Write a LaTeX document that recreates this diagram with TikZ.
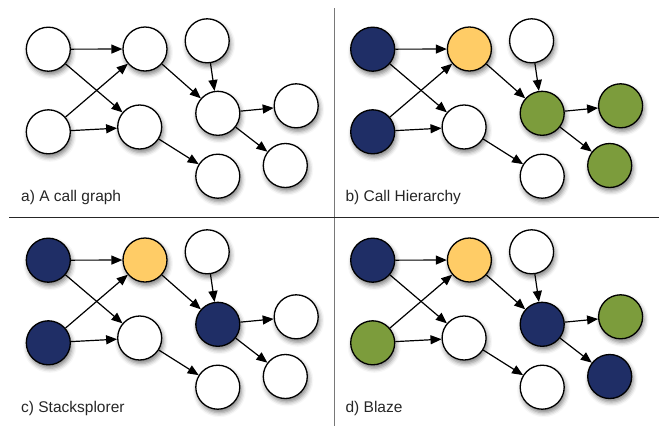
\documentclass[tikz,border=0pt]{standalone}
\usepackage{fontspec}
\setmainfont{Liberation Sans}
\usetikzlibrary{arrows.meta,shadows.blur}

\definecolor{navy}{RGB}{31,46,102}
\definecolor{gold}{RGB}{255,204,102}
\definecolor{olive}{RGB}{124,156,60}
\definecolor{rulegray}{RGB}{120,120,120}

% one call graph: nine functions and the calls between them
\newcommand\drawcallgraph[1]{%
  \node[fn,fA] (#1A) at (48.3,-49.2)  {};
  \node[fn,fB] (#1B) at (145.0,-49.0) {};
  \node[fn,fC] (#1C) at (207.2,-40.8) {};
  \node[fn,fD] (#1D) at (48.3,-131.8) {};
  \node[fn,fE] (#1E) at (139.7,-127.0) {};
  \node[fn,fF] (#1F) at (217.8,-113.3) {};
  \node[fn,fG] (#1G) at (296.2,-105.8) {};
  \node[fn,fH] (#1H) at (217.8,-176.2) {};
  \node[fn,fI] (#1I) at (285.3,-165.5) {};
  \draw[call] (#1A) -- (#1B);
  \draw[call] (#1A) -- (#1E);
  \draw[call] (#1D) -- (#1B);
  \draw[call] (#1D) -- (#1E);
  \draw[call] (#1B) -- (#1F);
  \draw[call] (#1C) -- (#1F);
  \draw[call] (#1E) -- (#1H);
  \draw[call] (#1F) -- (#1G);
  \draw[call] (#1F) -- (#1I);
}

\begin{document}
\begin{tikzpicture}[x=1pt,y=1pt,
  fn/.style={circle,draw=black,line width=1.3pt,fill=white,
    minimum size=44pt,inner sep=0pt,outer sep=0.6pt,
    blur shadow={shadow xshift=1.5pt,shadow yshift=-3.5pt,
      shadow blur radius=4.5pt,shadow opacity=50}},
  call/.style={line width=1.2pt,-{Triangle[length=11pt,width=9pt]}},
  caption/.style={anchor=base west,inner sep=0pt,
    font=\fontsize{15.5}{18}\selectfont,text=black!85},
  fA/.style={},fB/.style={},fC/.style={},fD/.style={},fE/.style={},
  fF/.style={},fG/.style={},fH/.style={},fI/.style={},
  nav/.style={fill=navy},gld/.style={fill=gold},olv/.style={fill=olive}]
\useasboundingbox (0,0) rectangle (659,-426);

% panel separators
\coordinate (vtop) at (334.7,-8);
\coordinate (vbot) at (334.7,-426);
\coordinate (hleft) at (9,-217.7);
\coordinate (hright) at (659,-217.7);
\draw[rulegray,line width=1.5pt] (vtop) -- (vbot);
\draw[black!85,line width=1.5pt] (hleft) -- (hright);

% a) plain call graph
\begin{scope}
  \drawcallgraph{a}
  \node[caption] (capa) at (21,-201) {a) A call graph};
\end{scope}

% b) Call Hierarchy
\begin{scope}[shift={(324.4,0)},
  fA/.style={nav},fD/.style={nav},fB/.style={gld},
  fF/.style={olv},fG/.style={olv},fI/.style={olv}]
  \drawcallgraph{b}
  \node[caption] (capb) at (21,-201) {b) Call Hierarchy};
\end{scope}

% c) Stacksplorer
\begin{scope}[shift={(0,-211)},
  fA/.style={nav},fD/.style={nav},fB/.style={gld},fF/.style={nav}]
  \drawcallgraph{c}
  \node[caption] (capc) at (21,-201) {c) Stacksplorer};
\end{scope}

% d) Blaze
\begin{scope}[shift={(324.4,-211)},
  fA/.style={nav},fD/.style={olv},fB/.style={gld},fF/.style={nav},
  fG/.style={olv},fI/.style={nav}]
  \drawcallgraph{d}
  \node[caption] (capd) at (21,-201) {d) Blaze};
\end{scope}
\end{tikzpicture}
\end{document}
